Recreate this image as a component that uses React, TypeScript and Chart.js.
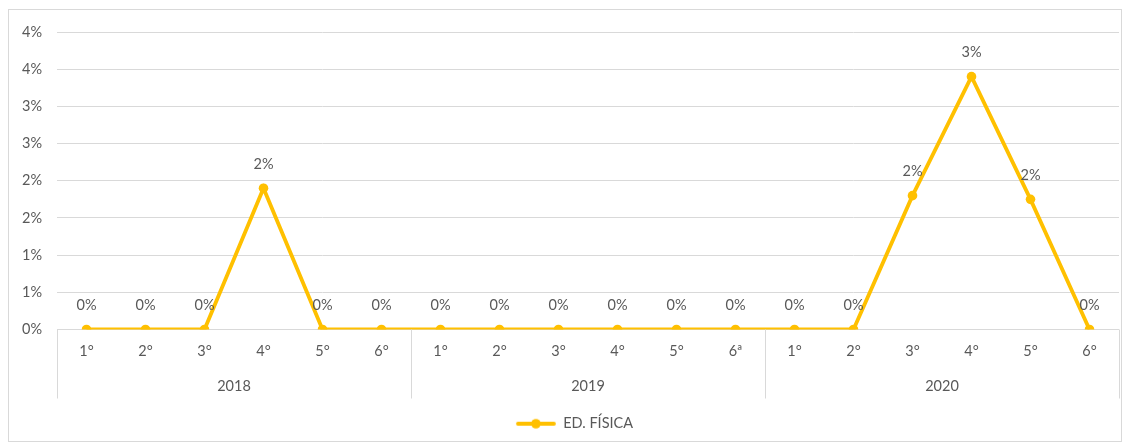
import React, { useEffect, useRef } from "react";
import { Chart, registerables } from "chart.js";

Chart.register(...registerables);

const categories = ["1°", "2°", "3°", "4°", "5°", "6°", "1°", "2°", "3°", "4°", "5°", "6ª", "1°", "2°", "3°", "4°", "5°", "6°"];
const years = ["2018", "2019", "2020"];
const values2018 = [0, 0, 0, 1.9, 0, 0];
const values2019 = [0, 0, 0, 0, 0, 0];
const values2020 = [0, 0, 1.8, 3.4, 1.75, 0];
const seriesName = "ED. FÍSICA";

const FONT = "Lato";
const TEXT = "#595959";
const GRID = "#d9d9d9";
const GOLD = "#FFC000";

export default function App() {
  const ref = useRef<HTMLCanvasElement | null>(null);
  useEffect(() => {
    const canvas = ref.current!;
    const values = [...values2018, ...values2019, ...values2020];

    const img = document.createElement("canvas");
    img.width = 60;
    img.height = 12;
    const c = img.getContext("2d")!;
    c.strokeStyle = GOLD;
    c.lineWidth = 3.8;
    c.lineCap = "round";
    c.beginPath();
    c.moveTo(22, 6);
    c.lineTo(58, 6);
    c.stroke();
    c.fillStyle = GOLD;
    c.beginPath();
    c.arc(40, 6, 4.8, 0, Math.PI * 2);
    c.fill();

    const extras = {
      id: "extras",
      afterDatasetsDraw(chart: any) {
        const ctx = chart.ctx;
        const meta = chart.getDatasetMeta(0);
        ctx.save();
        ctx.font = `14.5px ${FONT}`;
        ctx.fillStyle = TEXT;
        ctx.textAlign = "center";
        ctx.textBaseline = "middle";
        meta.data.forEach((p: any, i: number) => {
          ctx.fillText(Math.round(values[i]) + "%", p.x, p.y - 24);
        });
        ctx.restore();
      },
      afterDraw(chart: any) {
        const ctx = chart.ctx;
        const x = chart.scales.x;
        const n = categories.length / years.length;
        const bounds = [x.left];
        for (let g = 1; g < years.length; g++) {
          bounds.push((x.getPixelForValue(g * n - 1) + x.getPixelForValue(g * n)) / 2);
        }
        bounds.push(x.right);
        ctx.save();
        ctx.strokeStyle = GRID;
        ctx.lineWidth = 1;
        bounds.forEach((b) => {
          const bx = Math.round(b) + 0.5;
          ctx.beginPath();
          ctx.moveTo(bx, chart.chartArea.bottom);
          ctx.lineTo(bx, chart.chartArea.bottom + 69);
          ctx.stroke();
        });
        ctx.restore();
      },
    };

    const chart = new Chart(canvas, {
      type: "line",
      data: {
        labels: categories,
        datasets: [
          {
            label: seriesName,
            data: values,
            borderColor: GOLD,
            backgroundColor: GOLD,
            borderWidth: 3.8,
            pointRadius: 4.8,
            pointBackgroundColor: GOLD,
            pointBorderColor: GOLD,
            pointBorderWidth: 0,
            tension: 0,
            xAxisID: "x",
          },
        ],
      },
      options: {
        responsive: false,
        animation: false,
        layout: { padding: { left: 10, right: 7, top: 32, bottom: 5 } },
        plugins: {
          tooltip: { enabled: false },
          legend: {
            position: "bottom",
            labels: {
              usePointStyle: true,
              pointStyleWidth: 60,
              padding: 10,
              color: TEXT,
              font: { family: FONT, size: 14.5 },
              generateLabels: (ch: any) =>
                Chart.defaults.plugins.legend.labels.generateLabels(ch).map((l: any) => ({ ...l, pointStyle: img })),
            },
          },
        },
        scales: {
          x: {
            type: "category",
            offset: true,
            grid: { display: false },
            border: { display: false },
            ticks: { color: TEXT, font: { family: FONT, size: 14.5 }, padding: 5, maxRotation: 0, autoSkip: false },
            afterFit: (s: any) => {
              s.height = 36;
            },
          },
          x2: {
            type: "category",
            position: "bottom",
            labels: years,
            offset: true,
            grid: { display: false },
            border: { display: false },
            ticks: { color: TEXT, font: { family: FONT, size: 14.5 }, padding: 4, maxRotation: 0 },
            afterFit: (s: any) => {
              s.height = 41;
            },
          },
          y: {
            min: 0,
            max: 4,
            grid: { color: GRID, drawTicks: false },
            border: { display: false },
            ticks: {
              stepSize: 0.5,
              color: TEXT,
              font: { family: FONT, size: 14.5 },
              padding: 15,
              callback: (v: any) => Math.round(Number(v)) + "%",
            },
            afterFit: (s: any) => {
              s.width = 47;
            },
          },
        },
      },
      plugins: [extras],
    } as any);
    return () => chart.destroy();
  }, []);

  return (
    <div style={{ position: "absolute", left: 0, top: 0, width: 1126, height: 446, background: "#fff" }}>
      <div
        style={{
          position: "absolute",
          left: 8,
          top: 9,
          width: 1114,
          height: 433,
          border: "1px solid #d9d9d9",
          boxSizing: "border-box",
        }}
      />
      <canvas ref={ref} width={1126} height={446} style={{ position: "absolute", left: 0, top: 0 }} />
    </div>
  );
}
